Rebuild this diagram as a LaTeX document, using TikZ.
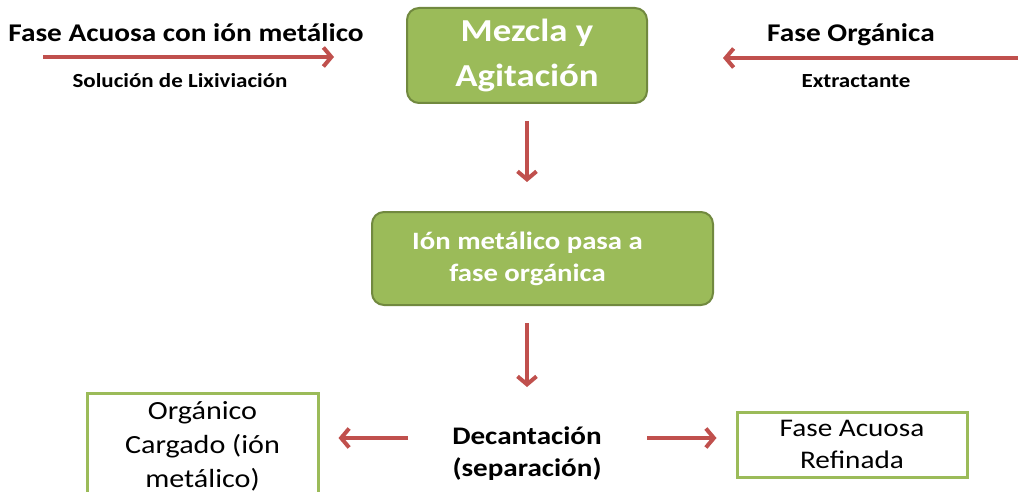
\documentclass[tikz,border=0pt]{standalone}
\usepackage{fontspec}
\setmainfont{Carlito}[FakeStretch=1.15]
\usetikzlibrary{arrows.meta}
\definecolor{rojo}{HTML}{C0504D}
\definecolor{verde}{HTML}{9BBB59}
\definecolor{verdeOsc}{HTML}{71893F}

\begin{document}
\begin{tikzpicture}[x=1pt, y=-1pt,
	flecha/.style={draw=rojo, line width=4pt, -{Straight Barb[length=8pt, width=19pt, line width=4pt]}},
	paso/.style={rectangle, rounded corners=12pt, fill=verde, draw=verdeOsc, line width=2pt, text=white, align=center},
	salida/.style={rectangle, draw=verde, line width=3pt, align=center, text=black},
	rotulo/.style={anchor=base, inner sep=0pt, font=\bfseries\fontsize{25.5}{30}\selectfont},
	subrotulo/.style={anchor=base, inner sep=0pt, font=\bfseries\fontsize{20}{24}\selectfont}]
	\useasboundingbox (0,0) rectangle (1018,492);
	\node[paso, minimum width=240pt, minimum height=95pt, font=\bfseries\fontsize{32}{45}\selectfont] (mezcla) at (527,55.5) {Mezcla y\\Agitación};
	\node[paso, minimum width=341pt, minimum height=93pt, font=\bfseries\fontsize{25}{32}\selectfont] (ion) at (542.5,258.5) {Ión metálico pasa a\hspace*{30pt}\\fase orgánica\hspace*{30pt}};
	\node[inner sep=0pt, align=center, font=\bfseries\fontsize{25.3}{32}\selectfont] (dec) at (527,454) {Decantación\\(separación)};
	\node[salida, minimum width=231pt, minimum height=106pt, font=\fontsize{26.2}{34}\selectfont] (org) at (202.5,446) {Orgánico\\Cargado (ión\\metálico)};
	\node[salida, minimum width=230pt, minimum height=65pt, font=\fontsize{25.4}{32}\selectfont] (ref) at (852,444.5) {Fase Acuosa\\Refinada};
	\node[rotulo] (acuosa) at (186,42) {Fase Acuosa con ión metálico};
	\node[subrotulo] (lixiv) at (180,88) {Solución de Lixiviación};
	\node[rotulo] (organica) at (851,42) {Fase Orgánica};
	\node[subrotulo] (extract) at (856,88) {Extractante};
	\coordinate (acuIn) at (43,57);
	\coordinate (orgIn) at (1022,58);
	\coordinate (decIzq) at (408,438);
	\coordinate (decDer) at (647,438);
	\path
	(acuIn) edge[flecha, shorten >=72pt] (acuIn -| mezcla.west)
	(orgIn) edge[flecha, shorten >=75pt] (orgIn -| mezcla.east)
	(mezcla.south) edge[flecha, shorten <=17pt, shorten >=29pt] (mezcla.south |- ion.north)
	(ion.south -| mezcla.south) edge[flecha, shorten <=17pt] ++(0,81)
	(decIzq) edge[flecha, shorten >=19pt] (decIzq -| org.east)
	(decDer) edge[flecha, shorten >=19pt] (decDer -| ref.west);
\end{tikzpicture}
\end{document}
